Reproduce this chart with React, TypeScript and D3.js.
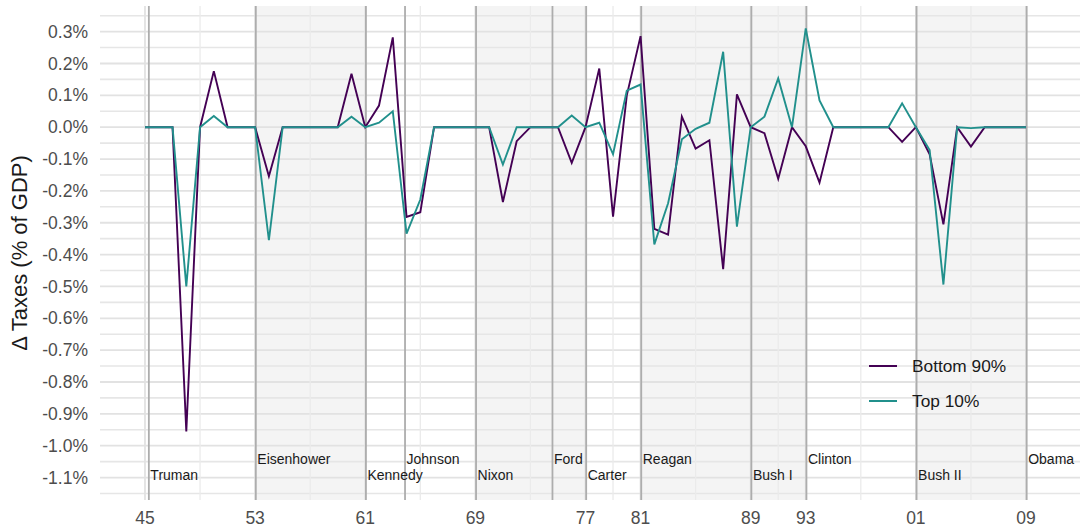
import React from "react";
import * as d3 from "d3";

const years: number[] = d3.range(1945, 2010);

const bottom90: number[] = [
  0, 0, 0, -0.955, 0, 0.176, 0, 0, 0, -0.154,
  0, 0, 0, 0, 0, 0.168, 0, 0.068, 0.282, -0.282,
  -0.267, 0, 0, 0, 0, 0, -0.235, -0.044, 0, 0,
  0, -0.112, 0, 0.184, -0.281, 0.1, 0.286, -0.319, -0.337, 0.033,
  -0.067, -0.041, -0.446, 0.103, 0, -0.019, -0.162, 0, -0.06, -0.174,
  0, 0, 0, 0, 0, -0.046, 0, -0.085, -0.305, 0,
  -0.061, 0, 0, 0, 0,
];

const top10: number[] = [
  0, 0, 0, -0.5, 0, 0.035, 0, 0, 0, -0.355,
  0, 0, 0, 0, 0, 0.033, 0, 0.014, 0.05, -0.334,
  -0.227, 0, 0, 0, 0, 0, -0.117, 0, 0, 0,
  0, 0.037, 0, 0.014, -0.085, 0.115, 0.134, -0.368, -0.239, -0.038,
  -0.005, 0.014, 0.237, -0.312, 0, 0.033, 0.153, 0, 0.31, 0.084,
  0, 0, 0, 0, 0, 0.075, 0, -0.072, -0.494, 0,
  -0.003, 0, 0, 0, 0,
];

const presNames: string[] = [
  "Truman", "Eisenhower", "Kennedy", "Johnson", "Nixon", "Ford",
  "Carter", "Reagan", "Bush I", "Clinton", "Bush II", "Obama",
];
const presStart: number[] = [
  1945.28, 1953.05, 1961.05, 1963.89, 1969.05, 1974.6,
  1977.05, 1981.05, 1989.05, 1993.05, 2001.05, 2009.05,
];
const presParty: string[] = ["D", "R", "D", "D", "R", "R", "D", "R", "R", "D", "R", "D"];
const presLabelY: number[] = [-1.1, -1.05, -1.1, -1.05, -1.1, -1.05, -1.1, -1.05, -1.1, -1.05, -1.1, -1.05];

const xTickYears: number[] = [1945, 1953, 1961, 1969, 1977, 1981, 1989, 1993, 2001, 2009];
const xTickLabels: string[] = ["45", "53", "61", "69", "77", "81", "89", "93", "01", "09"];
const yTicks: number[] = [0.3, 0.2, 0.1, 0, -0.1, -0.2, -0.3, -0.4, -0.5, -0.6, -0.7, -0.8, -0.9, -1.0, -1.1];

const seriesNames: string[] = ["Bottom 90%", "Top 10%"];
const seriesColors: string[] = ["#440154", "#21908C"];

const W = 1080;
const H = 529;
const panelLeft = 100;
const panelRight = 1092;
const panelTop = 6;
const panelBottom = 500;

export default function App() {
  const x = d3.scaleLinear().domain([1945, 2009]).range([145, 1026]);
  const y = d3.scaleLinear().domain([-1.1705, 0.3805]).range([panelBottom, panelTop]);

  const line = d3
    .line<[number, number]>()
    .x((d) => x(d[0]))
    .y((d) => y(d[1]));

  const series = [bottom90, top10].map((vals) => years.map((yr, i) => [yr, vals[i]] as [number, number]));

  const minorX: number[] = [];
  for (let i = 0; i < xTickYears.length - 1; i++) minorX.push((xTickYears[i] + xTickYears[i + 1]) / 2);
  const minorY: number[] = [];
  for (let i = 0; i <= yTicks.length; i++) minorY.push(0.35 - i * 0.1);

  const presEnd = presStart.slice(1).concat([x.invert(panelRight)]);
  const fmt = (v: number) => (Math.abs(v) < 1e-9 ? "0.0%" : v.toFixed(1) + "%");

  const font = "'Liberation Sans', Arial, Helvetica, sans-serif";

  return (
    <svg width={W} height={H} style={{ position: "absolute", left: 0, top: 0, background: "#fff" }} fontFamily={font}>
      {/* party shading */}
      {presNames.map((n, i) =>
        presParty[i] === "R" ? (
          <rect
            key={"sh" + n}
            x={x(presStart[i])}
            y={panelTop}
            width={x(presEnd[i]) - x(presStart[i])}
            height={panelBottom - panelTop}
            fill="#f4f4f4"
          />
        ) : null
      )}
      {/* grid */}
      {minorY.map((v) => (
        <line key={"my" + v} x1={panelLeft} x2={panelRight} y1={y(v)} y2={y(v)} stroke="#e6e6e6" strokeWidth={1.6} />
      ))}
      {yTicks.map((v) => (
        <line key={"gy" + v} x1={panelLeft} x2={panelRight} y1={y(v)} y2={y(v)} stroke="#e2e2e2" strokeWidth={1.8} />
      ))}
      {minorX.map((v) => (
        <line key={"mx" + v} x1={x(v)} x2={x(v)} y1={panelTop} y2={panelBottom} stroke="#ebebeb" strokeWidth={1.3} />
      ))}
      {xTickYears.map((v) => (
        <line key={"gx" + v} x1={x(v)} x2={x(v)} y1={panelTop} y2={panelBottom} stroke="#e2e2e2" strokeWidth={1.8} />
      ))}
      {/* president lines */}
      {presStart.map((s, i) => (
        <line key={"pl" + i} x1={x(s)} x2={x(s)} y1={panelTop} y2={panelBottom} stroke="#adadad" strokeWidth={1.8} />
      ))}
      {/* president labels */}
      {presNames.map((n, i) => (
        <text key={"pn" + n} x={x(presStart[i]) + 1.5} y={y(presLabelY[i]) + 2} fontSize={14} fill="#1a1a1a">
          {n}
        </text>
      ))}
      {/* series */}
      {series.map((s, i) => (
        <path key={"s" + i} d={line(s) || ""} fill="none" stroke={seriesColors[i]} strokeWidth={1.9} strokeLinejoin="miter" />
      ))}
      {/* y axis labels */}
      {yTicks.map((v) => (
        <text key={"yl" + v} x={88} y={y(v)} dy="0.35em" textAnchor="end" fontSize={17.5} fill="#4d4d4d">
          {fmt(v)}
        </text>
      ))}
      {/* x axis labels */}
      {xTickYears.map((v, i) => (
        <text key={"xl" + v} x={x(v)} y={524} textAnchor="middle" fontSize={17.5} fill="#4d4d4d">
          {xTickLabels[i]}
        </text>
      ))}
      {/* y title */}
      <text transform={`translate(27,${(panelTop + panelBottom) / 2}) rotate(-90)`} textAnchor="middle" fontSize={22} fill="#1a1a1a">
        Δ Taxes (% of GDP)
      </text>
      {/* legend */}
      {seriesNames.map((n, i) => (
        <g key={"lg" + n} transform={`translate(0,${366 + i * 35})`}>
          <line x1={869} x2={897} y1={0} y2={0} stroke={seriesColors[i]} strokeWidth={2} />
          <text x={912} y={0} dy="0.35em" fontSize={17.3} fill="#1a1a1a">
            {n}
          </text>
        </g>
      ))}
    </svg>
  );
}
